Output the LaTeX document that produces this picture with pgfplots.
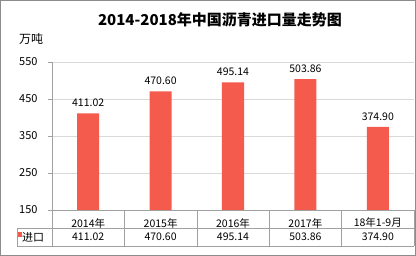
\documentclass[border=0pt]{standalone}
\usepackage{fontspec}
\setmainfont{Noto Sans CJK SC}
\usepackage{pgfplots}
\pgfplotsset{compat=1.18}
\definecolor{barred}{HTML}{F45B4D}
\definecolor{gridgray}{HTML}{D9D9D9}
\definecolor{axgray}{HTML}{A0A0A0}
\definecolor{framegray}{HTML}{8C8C8C}
\begin{document}
\begin{tikzpicture}[x=1pt,y=1pt]
\useasboundingbox (0,0) rectangle (416,256);
\draw[framegray, line width=1pt] (0.5,0.5) rectangle (415.5,255.5);
\node[font=\fontsize{15}{16}\selectfont\bfseries] at (220,236) {2014-2018年中国沥青进口量走势图};
\node[font=\fontsize{12}{13}\selectfont, anchor=west, inner sep=0pt] at (19,217) {万吨};
\begin{axis}[
  at={(52pt,46pt)}, anchor=south west,
  scale only axis, width=362pt, height=148pt,
  xmin=-0.5, xmax=4.5, ymin=150, ymax=550,
  ytick={150,250,350,450,550},
  xtick={0,1,2,3,4},
  xticklabels={2014年,2015年,2016年,2017年,18年1-9月},
  axis x line=bottom, axis y line=left,
  axis line style={-, draw=axgray},
  xtick style={draw=none},
  ytick style={draw=axgray},
  tick align=outside, major tick length=4pt,
  ymajorgrids, grid style={gridgray},
  /pgf/number format/assume math mode=true,
  yticklabel style={font=\fontsize{11}{12}\selectfont, xshift=-7pt},
  xticklabel style={font=\fontsize{10.5}{12}\selectfont, anchor=center, yshift=-9pt},
  ybar, bar width=22pt,
  point meta=explicit symbolic,
  nodes near coords={\pgfplotspointmeta},
  every node near coord/.append style={font=\fontsize{10.5}{12}\selectfont, black, yshift=3pt},
  clip=false,
]
\addplot[fill=barred, draw=none, bar shift=0pt] coordinates {
  (0,411.02) [411.02]
  (1,470.60) [470.60]
  (2,495.14) [495.14]
  (3,503.86) [503.86]
  (4,374.90) [374.90]
};
\end{axis}
% data table
\draw[axgray] (17,28) -- (414,28);
\draw[axgray] (17,10) -- (414,10);
\draw[axgray] (17,10) -- (17,28);
\foreach \xx in {52,124.4,196.8,269.2,341.6,414} {\draw[axgray] (\xx,10) -- (\xx,46);}
\fill[barred] (17.5,19) rectangle (21.5,23.5);
\node[font=\fontsize{11}{12}\selectfont, anchor=west, inner sep=0pt] at (22,19) {进口};
\foreach \xx/\vv in {88.2/411.02,160.6/470.60,233/495.14,305.4/503.86,377.8/374.90}
  {\node[font=\fontsize{10.5}{12}\selectfont] at (\xx,19) {\vv};}
\end{tikzpicture}
\end{document}
